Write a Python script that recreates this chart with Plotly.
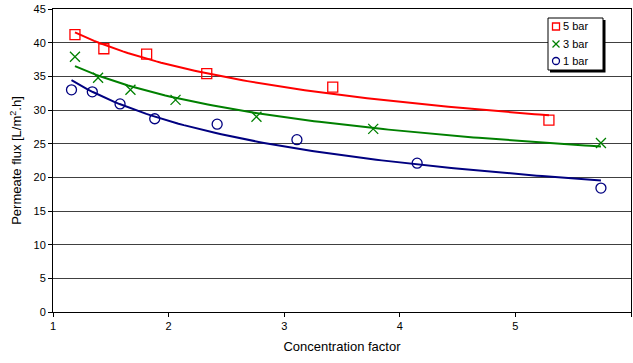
import numpy as np
import plotly.graph_objects as go

# Data
x_5bar = [1.19, 1.44, 1.81, 2.33, 3.42, 5.29]
y_5bar = [41.2, 39.1, 38.3, 35.4, 33.4, 28.5]
x_3bar = [1.19, 1.39, 1.67, 2.06, 2.76, 3.77, 5.74]
y_3bar = [37.9, 34.8, 33.0, 31.5, 29.0, 27.2, 25.1]
x_1bar = [1.16, 1.34, 1.58, 1.88, 2.42, 3.11, 4.15, 5.74]
y_1bar = [33.0, 32.7, 30.9, 28.7, 27.9, 25.6, 22.1, 18.4]

series = [
    ("5 bar", x_5bar, y_5bar, "#ff0000", "square-open"),
    ("3 bar", x_3bar, y_3bar, "#008000", "x-thin-open"),
    ("1 bar", x_1bar, y_1bar, "#000080", "circle-open"),
]

fig = go.Figure()
for name, xs, ys, col, sym in series:
    # power trendline (least squares on log-log, as a spreadsheet would)
    b, lna = np.polyfit(np.log(xs), np.log(ys), 1)
    xf = np.linspace(min(xs), max(xs), 100)
    yf = np.exp(lna) * xf ** b
    fig.add_trace(go.Scatter(x=xf, y=yf, mode="lines", line=dict(color=col, width=2),
                             showlegend=False, hoverinfo="skip"))
for name, xs, ys, col, sym in series:
    fig.add_trace(go.Scatter(x=xs, y=ys, mode="markers", name=name, showlegend=False,
                             marker=dict(symbol=sym, size=10, color=col,
                                         line=dict(color=col, width=1.3))))

# ---- hand-drawn legend box (pixel geometry converted to paper coords) ----
L, T, PW, PH = 53, 9, 578, 303
def px(x):
    return (x - L) / PW
def py(y):
    return (T + PH - y) / PH

shapes = []
# shadow
shapes.append(dict(type="rect", xref="paper", yref="paper",
                   x0=px(550), x1=px(605.5), y0=py(72.5), y1=py(20),
                   fillcolor="black", line=dict(width=0), layer="above"))
# box
shapes.append(dict(type="rect", xref="paper", yref="paper",
                   x0=px(548), x1=px(603), y0=py(70), y1=py(18),
                   fillcolor="white", line=dict(color="black", width=1), layer="above"))
rows_y = [26.5, 44, 61]
cx, r = 556, 3.5
annotations = []
for (name, xs, ys, col, sym), yy in zip(series, rows_y):
    if sym.startswith("square"):
        shapes.append(dict(type="rect", xref="paper", yref="paper",
                           x0=px(cx - r), x1=px(cx + r), y0=py(yy + r), y1=py(yy - r),
                           line=dict(color=col, width=1.3), layer="above"))
    elif sym.startswith("x"):
        shapes.append(dict(type="line", xref="paper", yref="paper",
                           x0=px(cx - r), x1=px(cx + r), y0=py(yy + r), y1=py(yy - r),
                           line=dict(color=col, width=1.3), layer="above"))
        shapes.append(dict(type="line", xref="paper", yref="paper",
                           x0=px(cx - r), x1=px(cx + r), y0=py(yy - r), y1=py(yy + r),
                           line=dict(color=col, width=1.3), layer="above"))
    else:
        shapes.append(dict(type="circle", xref="paper", yref="paper",
                           x0=px(cx - r), x1=px(cx + r), y0=py(yy + r), y1=py(yy - r),
                           line=dict(color=col, width=1.3), layer="above"))
    annotations.append(dict(text=name, xref="paper", yref="paper", x=px(560.5), y=py(yy),
                            xanchor="left", yanchor="middle", showarrow=False,
                            font=dict(size=11, color="black")))

fig.update_layout(
    width=633, height=363,
    margin=dict(l=53, r=2, t=9, b=51),
    paper_bgcolor="white", plot_bgcolor="white",
    font=dict(family="Arial, Liberation Sans, sans-serif", size=11, color="#000000"),
    showlegend=False,
    shapes=shapes, annotations=annotations,
    xaxis=dict(range=[1, 6], tickmode="linear", tick0=1, dtick=1,
               showgrid=False, showline=True, linecolor="black", linewidth=1,
               mirror=True, ticks="outside", ticklen=4, tickcolor="black",
               title=dict(text="Concentration factor", standoff=10),
               zeroline=False),
    yaxis=dict(range=[0, 45], tickmode="linear", tick0=0, dtick=5,
               showgrid=True, gridcolor="#404040", gridwidth=1,
               showline=True, linecolor="black", linewidth=1, mirror=True,
               ticks="outside", ticklen=4, tickcolor="black",
               title=dict(text="Permeate flux [L/m<sup>2</sup>.h]", standoff=8),
               zeroline=False),
)

fig.write_html("out.html")
